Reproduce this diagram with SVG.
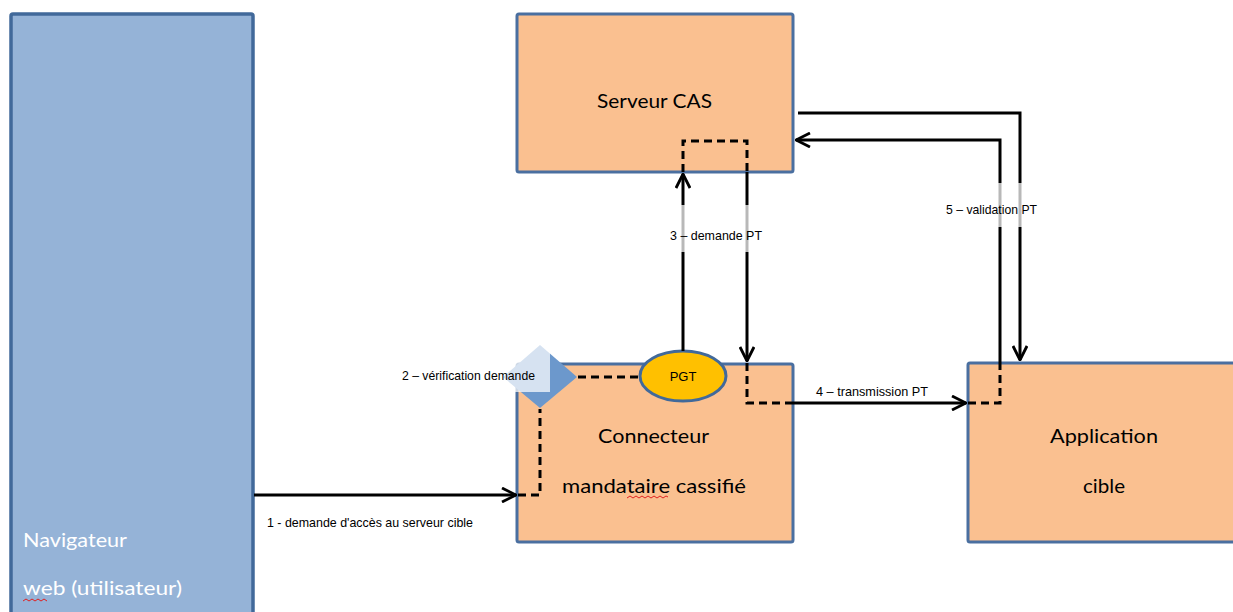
<svg xmlns="http://www.w3.org/2000/svg" width="1233" height="612" viewBox="0 0 1233 612">
<style>
.box{fill:#FAC090;stroke:#4A6FA0;stroke-width:3}
.nav{fill:#95B3D7;stroke:#41699A;stroke-width:3.5}
.big{font-family:Lato,"Open Sans","Liberation Sans",sans-serif;font-size:20px;fill:#000}
.lbl{font-family:"Liberation Sans Narrow","Liberation Sans",sans-serif;font-size:13px;fill:#000}
.solid{fill:none;stroke:#000;stroke-width:3}
.dash{fill:none;stroke:#000;stroke-width:3;stroke-dasharray:8 5}
.bg{fill:#fff;fill-opacity:0.72}
.sq{fill:none;stroke:#E02020;stroke-width:1}
</style>
<defs>
<marker id="arr" viewBox="0 0 16 16" refX="15" refY="8" markerWidth="16" markerHeight="16" markerUnits="userSpaceOnUse" orient="auto">
<path d="M1,1 L15,8 L1,15" fill="none" stroke="#000" stroke-width="2.8"/>
</marker>
</defs>
<rect width="1233" height="612" fill="#fff"/>
<g id="navigateur">
<rect class="nav" x="11" y="14" width="242" height="620" rx="2"/>
<text x="23" y="547" style="font-family:Lato,'Open Sans','Liberation Sans',sans-serif;font-size:20px;fill:#fff" textLength="104" lengthAdjust="spacingAndGlyphs">Navigateur</text>
<text x="23" y="595" style="font-family:Lato,'Open Sans','Liberation Sans',sans-serif;font-size:20px;fill:#fff" textLength="159" lengthAdjust="spacingAndGlyphs">web (utilisateur)</text>
<path class="sq" d="M23,601 l3,-2 l3,2 l3,-2 l3,2 l3,-2 l3,2 l3,-2 l3,2"/>
</g>
<g id="serveur-cas">
<rect class="box" x="517" y="14" width="276" height="158" rx="2"/>
<text class="big" x="597" y="108" textLength="115" lengthAdjust="spacingAndGlyphs">Serveur CAS</text>
</g>
<g id="connecteur">
<rect class="box" x="517" y="364" width="276" height="178" rx="2"/>
<text class="big" x="598" y="443" textLength="111" lengthAdjust="spacingAndGlyphs">Connecteur</text>
<text class="big" x="562" y="493" textLength="184" lengthAdjust="spacingAndGlyphs">mandataire cassifié</text>
<path class="sq" d="M627,498 l3,-2 l3,2 l3,-2 l3,2 l3,-2 l3,2 l3,-2 l3,2 l3,-2 l3,2 l3,-2 l3,2 l3,-2 l2,1"/>
</g>
<g id="application">
<rect class="box" x="968" y="363" width="280" height="179" rx="2"/>
<text class="big" x="1050" y="443" textLength="108" lengthAdjust="spacingAndGlyphs">Application</text>
<text class="big" x="1083" y="493" textLength="42" lengthAdjust="spacingAndGlyphs">cible</text>
</g>
<g id="verification">
<polygon points="540,345 577,377 540,408 503,377" fill="#6C98CC"/>
</g>
<g id="pgt">
<ellipse cx="683" cy="376" rx="43" ry="25" fill="#FFC000" stroke="#41699A" stroke-width="3"/>
<text class="lbl" x="683" y="381" text-anchor="middle">PGT</text>
</g>
<g id="connectors">
<path class="solid" d="M254,495 L516,495" marker-end="url(#arr)"/>
<path class="dash" d="M518,495 L540,495 L540,409"/>
<path class="dash" d="M578,377 L640,377"/>
<path class="solid" d="M683,351 L683,174" marker-end="url(#arr)"/>
<path class="dash" d="M683,172 L683,141 L747,141 L747,172"/>
<path class="solid" d="M747,172 L747,361" marker-end="url(#arr)"/>
<path class="dash" d="M747,363 L747,403 L793,403"/>
<path class="solid" d="M793,403 L966,403" marker-end="url(#arr)"/>
<path class="dash" d="M968,403 L1000,403 L1000,363"/>
<path class="solid" d="M1000,363 L1000,140 L796,140" marker-end="url(#arr)"/>
<path class="solid" d="M798,113 L1020,113 L1020,360" marker-end="url(#arr)"/>
</g>
<g id="labels">
<rect class="bg" x="398" y="342" width="152" height="50"/>
<text class="lbl" x="402" y="380" textLength="133" lengthAdjust="spacingAndGlyphs">2 – vérification demande</text>
<rect class="bg" x="665" y="205" width="102" height="47"/>
<text class="lbl" x="670" y="240" textLength="92" lengthAdjust="spacingAndGlyphs">3 – demande PT</text>
<rect class="bg" x="942" y="183" width="98" height="44"/>
<text class="lbl" x="946" y="214" textLength="91" lengthAdjust="spacingAndGlyphs">5 – validation PT</text>
<text class="lbl" x="816" y="396" textLength="112" lengthAdjust="spacingAndGlyphs">4 – transmission PT</text>
<text class="lbl" x="267" y="527" textLength="206" lengthAdjust="spacingAndGlyphs">1 - demande d'accès au serveur cible</text>
</g>
</svg>
